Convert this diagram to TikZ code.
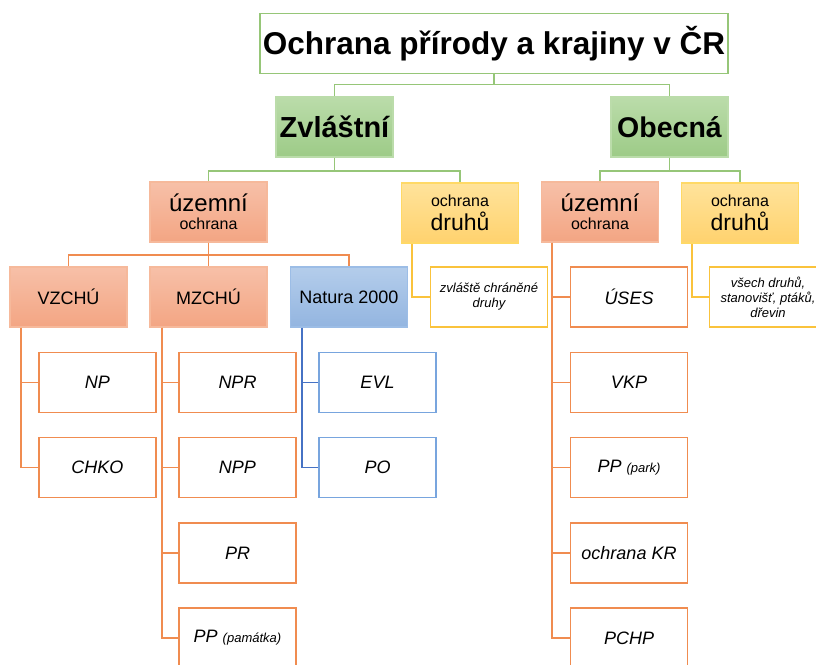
\documentclass[tikz,border=0pt]{standalone}
\usepackage{fontspec}
\setmainfont{Liberation Sans}
\usetikzlibrary{positioning}

\definecolor{grline}{RGB}{150,198,120}
\definecolor{grtop}{RGB}{187,220,170}
\definecolor{grbot}{RGB}{157,203,135}
\definecolor{ortop}{RGB}{247,192,168}
\definecolor{orbot}{RGB}{243,165,131}
\definecolor{orbord}{RGB}{246,185,155}
\definecolor{orline}{RGB}{240,140,80}
\definecolor{yetop}{RGB}{255,227,155}
\definecolor{yebot}{RGB}{255,210,110}
\definecolor{yebord}{RGB}{255,217,102}
\definecolor{yeline}{RGB}{250,195,60}
\definecolor{bltop}{RGB}{180,205,235}
\definecolor{blbot}{RGB}{147,181,224}
\definecolor{blbord}{RGB}{156,189,230}
\definecolor{blline}{RGB}{70,114,196}
\definecolor{blleaf}{RGB}{120,165,222}

\newcommand\fsz[2]{\fontsize{#1}{#2}\selectfont}

\tikzset{
  box/.style={draw, line width=1.6pt, minimum width=117pt, minimum height=60pt,
    inner sep=1pt, align=center, text=black},
  titlebox/.style={box, draw=grline, fill=white, minimum width=468pt,
    font=\fsz{31.5}{34}\bfseries},
  grbox/.style={box, draw=grtop, top color=grtop, bottom color=grbot,
    font=\fsz{29}{31}\bfseries},
  orbox/.style={box, draw=orbord, top color=ortop, bottom color=orbot},
  yebox/.style={box, draw=yebord, top color=yetop, bottom color=yebot},
  blbox/.style={box, draw=blbord, top color=bltop, bottom color=blbot},
  orleaf/.style={box, draw=orline, fill=white, font=\fsz{18}{20}\itshape},
  blleaf/.style={box, draw=blleaf, fill=white, font=\fsz{18}{20}\itshape},
  yeleaf/.style={box, draw=yeline, fill=white, font=\fsz{13}{15}\itshape},
  grlink/.style={draw=grline, line width=1.6pt},
  orlink/.style={draw=orline, line width=1.6pt},
  yelink/.style={draw=yeline, line width=1.6pt},
  bllink/.style={draw=blline, line width=1.6pt}
}

\begin{document}
\begin{tikzpicture}[x=1pt,y=-1pt]
\clip (0,0) rectangle (816,664);

% hlavni uroven
\node[titlebox] (title) at (494,43.5) {Ochrana přírody a krajiny v ČR};
\node[grbox] (zvl) at (334.5,127) {Zvláštní};
\node[grbox, font=\fsz{28.5}{31}\bfseries] (obe) at (669.5,127) {Obecná};
\draw[grlink] (title.south) -- ++(0,10) -| (zvl.north);
\draw[grlink] (title.south) -- ++(0,10) -| (obe.north);

% druha uroven
\node[orbox, font=\fsz{16}{18}] (uzL) at (208.5,212) {{\fsz{24}{26}územní}\\ochrana};
\node[yebox, font=\fsz{16}{21}] (drL) at (460,213) {ochrana\\[3pt]{\fsz{23}{25}druhů}};
\node[orbox, font=\fsz{16}{18}] (uzR) at (600,212) {{\fsz{24}{26}územní}\\ochrana};
\node[yebox, font=\fsz{16}{21}] (drR) at (740,213) {ochrana\\[3pt]{\fsz{23}{25}druhů}};
\draw[grlink] (zvl.south) -- ++(0,13) -| (uzL.north);
\draw[grlink] (zvl.south) -- ++(0,13) -| (drL.north);
\draw[grlink] (obe.south) -- ++(0,13) -| (uzR.north);
\draw[grlink] (obe.south) -- ++(0,13) -| (drR.north);

% zvlastni - uzemni ochrana
\node[orbox, font=\fsz{18}{20}] (vzchu) at (68.5,297) {VZCHÚ};
\node[orbox, font=\fsz{18}{20}] (mzchu) at (208.5,297) {MZCHÚ};
\node[blbox, font=\fsz{18}{20}] (natura) at (349,297) {Natura 2000};
\draw[orlink] (uzL.south) -- ++(0,12) -| (vzchu.north);
\draw[orlink] (uzL.south) -- (mzchu.north);
\draw[orlink] (uzL.south) -- ++(0,12) -| (natura.north);

\node[orleaf] (np) at (97.5,382.5) {NP};
\node[orleaf] (chko) at (97.5,467.5) {CHKO};
\draw[orlink] ([xshift=12pt]vzchu.south west) |- (np.west);
\draw[orlink] ([xshift=12pt]vzchu.south west) |- (chko.west);

\node[orleaf] (npr) at (237.5,382.5) {NPR};
\node[orleaf] (npp) at (237.5,467.5) {NPP};
\node[orleaf] (pr) at (237.5,553) {PR};
\node[orleaf] (ppam) at (237.5,638) {PP {\fsz{13}{15}(památka)}};
\draw[orlink] ([xshift=13pt]mzchu.south west) |- (npr.west);
\draw[orlink] ([xshift=13pt]mzchu.south west) |- (npp.west);
\draw[orlink] ([xshift=13pt]mzchu.south west) |- (pr.west);
\draw[orlink] ([xshift=13pt]mzchu.south west) |- (ppam.west);

\node[blleaf] (evl) at (377.5,382.5) {EVL};
\node[blleaf] (po) at (377.5,467.5) {PO};
\draw[bllink] ([xshift=12pt]natura.south west) |- (evl.west);
\draw[bllink] ([xshift=12pt]natura.south west) |- (po.west);

% zvlastni - ochrana druhu
\node[yeleaf] (zvdr) at (489,297) {zvláště chráněné\\druhy};
\draw[yelink] ([xshift=11pt]drL.south west) |- (zvdr.west);

% obecna - uzemni ochrana
\node[orleaf] (uses) at (629,297) {ÚSES};
\node[orleaf] (vkp) at (629,382.5) {VKP};
\node[orleaf] (ppark) at (629,467.5) {PP {\fsz{13}{15}(park)}};
\node[orleaf] (okr) at (629,553) {ochrana KR};
\node[orleaf] (pchp) at (629,638) {PCHP};
\draw[orlink] ([xshift=11pt]uzR.south west) |- (uses.west);
\draw[orlink] ([xshift=11pt]uzR.south west) |- (vkp.west);
\draw[orlink] ([xshift=11pt]uzR.south west) |- (ppark.west);
\draw[orlink] ([xshift=11pt]uzR.south west) |- (okr.west);
\draw[orlink] ([xshift=11pt]uzR.south west) |- (pchp.west);

% obecna - ochrana druhu
\node[yeleaf] (vsech) at (768,297) {všech druhů,\\stanovišť, ptáků,\\dřevin};
\draw[yelink] ([xshift=11pt]drR.south west) |- (vsech.west);
\end{tikzpicture}
\end{document}
